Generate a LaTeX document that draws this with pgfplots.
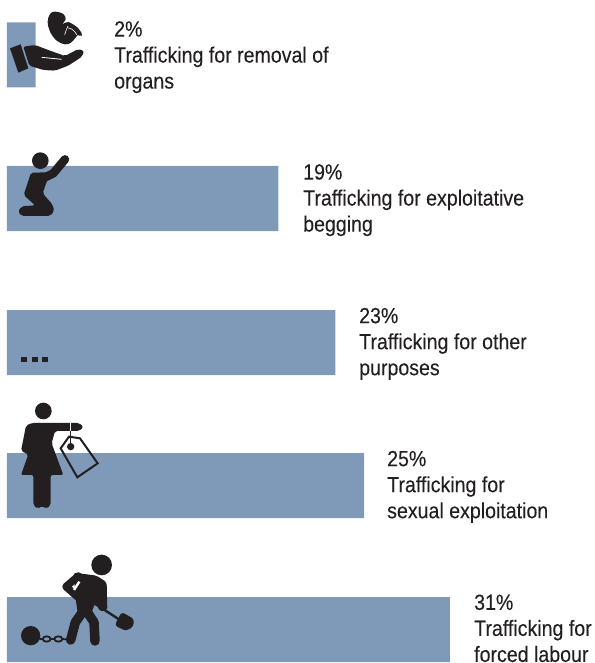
\documentclass[border=0pt]{standalone}
\usepackage{pgfplots}
\pgfplotsset{compat=1.18}
\usepackage{fontspec}
\setmainfont[FakeStretch=0.89,FakeBold=0.12]{Liberation Sans}
\definecolor{barblue}{HTML}{7F9AB9}
\definecolor{ink}{HTML}{231F20}
\begin{document}
\begin{tikzpicture}
\useasboundingbox (0pt,0pt) rectangle (594pt,663pt);
\begin{axis}[
  at={(0pt,0pt)},anchor=south west,
  scale only axis,width=594pt,height=663pt,
  hide axis,
  xmin=-0.49,xmax=41.1,
  ymin=0,ymax=663,y dir=reverse,
  clip=false,
]
\addplot[xbar,bar width=65pt,fill=barblue,draw=none] coordinates {
 (2,55) (19,198.5) (23,342.5) (25,485.5) (31,629.5)};
\end{axis}
\begin{scope}[shift={(0pt,663pt)},x=0.33333pt,y=-0.33333pt]
 \tikzset{lab/.style={anchor=north west,inner sep=0pt,align=left,text=ink,font=\fontsize{22}{26}\selectfont}}
 \node[lab] at (342,63) {2\%\\Trafficking for removal of\\organs};
 \node[lab] at (909,492) {19\%\\Trafficking for exploitative\\begging};
 \node[lab] at (1077,923) {23\%\\Trafficking for other\\purposes};
 \node[lab] at (1161,1352) {25\%\\Trafficking for\\sexual exploitation};
 \node[lab] at (1422,1783) {31\%\\Trafficking for\\forced labour};
 % kidney and hand
 \fill[ink] plot[smooth cycle,tension=0.6] coordinates {(165,35)(190,42)(197,58)(188,72)(205,66)(235,85)(246,106)(232,106)(226,114)(213,128)(195,133)(170,122)(150,95)(143,65)(150,42)};
 \draw[white,line width=0.6pt] (194,104) .. controls (198,92) and (200,86) .. (204,78);
 \draw[white,line width=0.6pt] (204,84) .. controls (215,85) and (224,92) .. (230,104);
 \fill[ink] (30,145)--(62,133)--(85,205)--(55,218)--cycle;
 \fill[ink,rounded corners=2pt] (70,140)--(105,135)--(150,152)--(195,168)--(235,147)--(252,153)--(246,170)--(205,197)--(165,212)--(130,210)--(88,197)--cycle;
 \draw[white,line width=0.8pt] (125,172)--(185,178);
 % kneeling person
 \begin{scope}[shift={(0,435)}]
  \fill[ink] (121,47) circle (25);
  \draw[ink,line width=8.5pt,line cap=round] (130,100) -- (160,85) -- (195,43);
  \fill[ink,rounded corners=2pt] (93,83)--(150,82)--(128,145)--(157,178)--(163,198)--(150,213)--(65,213)--(54,200)--(65,184)--(105,181)--(71,150)--cycle;
 \end{scope}
 % dots
 \fill[ink] (63,1071) rectangle (81,1086);
 \fill[ink] (96,1071) rectangle (114,1086);
 \fill[ink] (126,1071) rectangle (144,1086);
 % woman with tag
 \begin{scope}[shift={(0,1185)}]
  \fill[ink] (130,48) circle (25);
  \fill[ink,rounded corners=2pt] (95,84)--(238,84)--(250,96)--(238,108)--(165,108)--(155,145)--(190,240)--(152,240)--(152,330)--(139,342)--(126,332)--(113,342)--(100,330)--(100,240)--(63,240)--(85,178)--(63,168)--(78,92)--cycle;
  \draw[white,line width=1pt] (212,82)--(212,110);
  \draw[ink,line width=2pt,line join=miter] (182,160)--(207,125)--(240,130)--(293,205)--(232,247)--cycle;
  \draw[ink,line width=1.2pt] (212,108)--(212,155);
  \fill[ink] (212,155) circle (11);
 \end{scope}
 % worker
 \begin{scope}[shift={(0,1635)}]
  \fill[ink] (305,60) circle (31);
  \fill[ink,rounded corners=2pt] (222,83)--(290,92)--(320,112)--(322,195)--(300,200)--(287,170)--(270,215)--(235,215)--(225,150)--cycle;
  \draw[ink,line width=7.5pt,line cap=round,line join=round] (235,93)--(198,125)--(232,155);
  \draw[white,line width=2.4pt] (222,135)--(238,110);
  \draw[ink,line width=9.5pt,line cap=round,line join=round] (252,195)--(226,232)--(212,285);
  \draw[ink,line width=9.5pt,line cap=round,line join=round] (258,195)--(282,232)--(285,288);
  \draw[ink,line width=2.4pt] (278,172)--(360,225);
  \fill[ink,rounded corners=3pt] (365,201)--(402,222)--(400,245)--(377,258)--(344,241)--cycle;
  \fill[ink] (92,272) circle (29);
  \draw[ink,line width=1.8pt] (140,282) ellipse (12 and 8);
  \draw[ink,line width=1.8pt] (175,282) ellipse (12 and 8);
  \draw[ink,line width=1.8pt] (118,282)--(128,282) (152,282)--(163,282) (187,282)--(205,284);
 \end{scope}
\end{scope}
\end{tikzpicture}
\end{document}
